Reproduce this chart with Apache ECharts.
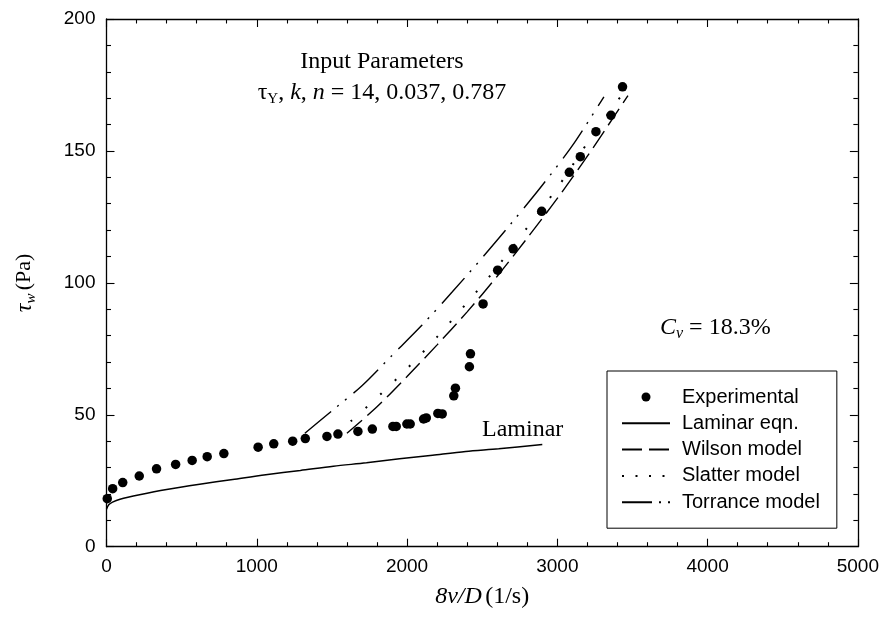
<!DOCTYPE html>
<html>
<head>
<meta charset="utf-8">
<script src="https://cdn.jsdelivr.net/npm/echarts@6/dist/echarts.min.js"></script>
<style>html,body{margin:0;padding:0;background:#fff;}#c{width:882px;height:626px;}</style>
</head>
<body>
<div id="c"></div>
<script>
// ---- axis settings ----
const xAxisRange = [0, 5000];
const xTickStep = 1000;
const yAxisRange = [0, 200];
const yTickStep = 50;

// ---- series names ----
const seriesNames = ['Experimental', 'Laminar eqn.', 'Wilson model', 'Slatter model', 'Torrance model'];

// ---- data: [8V/D (1/s), tau_w (Pa)] ----
const experimental = [
  [5,18.2],[41,22.0],[108,24.3],[218,26.8],[333,29.5],[460,31.2],[570,32.7],[670,34.1],[781,35.3],
  [1009,37.7],[1113,39.0],[1239,40.0],[1323,41.0],[1467,41.8],[1540,42.7],[1673,43.7],[1769,44.6],
  [1906,45.6],[1928,45.6],[1999,46.5],[2021,46.5],[2110,48.4],[2128,48.8],[2205,50.5],[2234,50.3],
  [2311,57.2],[2322,60.1],[2415,68.2],[2422,73.1],[2506,92.0],[2603,104.8],[2706,112.9],[2896,127.1],
  [3080,141.9],[3153,147.8],[3257,157.3],[3357,163.5],[3434,174.3]
];
const laminar = [
  [0,14.2],[15,15.9],[40,16.9],[90,18.0],[220,19.7],[400,21.7],[620,23.7],[840,25.5],[1060,27.3],
  [1290,28.9],[1510,30.5],[1730,31.8],[1950,33.3],[2170,34.7],[2390,36.1],[2610,37.1],[2900,38.7]
];
const wilson = [
  [1600,43.0],[1800,53.0],[2000,64.5],[2200,76.5],[2400,89.0],[2600,102.5],[2800,117.0],
  [3000,132.0],[3200,148.0],[3400,165.0],[3470,171.0]
];
const slatter = [
  [1625,47.5],[1800,56.5],[2000,67.5],[2200,79.5],[2400,92.5],[2600,106.0],[2800,121.0],
  [3000,136.0],[3200,153.0],[3420,170.5]
];
const torrance = [
  [1320,43.0],[1500,51.5],[1700,61.0],[1900,72.5],[2100,84.0],[2300,96.5],[2500,109.5],
  [2700,123.0],[2900,137.0],[3100,152.0],[3310,170.5]
];

const SANS = '"Liberation Sans", Arial, sans-serif';
const SERIF = '"Liberation Serif", "Times New Roman", serif';

const chart = echarts.init(document.getElementById('c'), null, {renderer: 'canvas'});

function mkAxis(extra) {
  return Object.assign({
    axisLine: {show: true, onZero: false, lineStyle: {color: '#000', width: 1.3}},
    axisTick: {show: true, inside: true, length: 8, lineStyle: {color: '#000', width: 1.1}},
    minorTick: {show: true, splitNumber: 5, length: 4.5, lineStyle: {color: '#000', width: 1.1}},
    splitLine: {show: false},
    minorSplitLine: {show: false}
  }, extra);
}

const plainNum = v => String(v);
const lineCommon = {type: 'line', symbol: 'none', smooth: 0.3, silent: true, z: 3};

chart.setOption({
  animation: false,
  backgroundColor: '#fff',
  grid: {left: 106.5, right: 23.5, top: 19, bottom: 79.3, containLabel: false},
  xAxis: [
    mkAxis({
      type: 'value', position: 'bottom', min: xAxisRange[0], max: xAxisRange[1], interval: xTickStep,
      axisLabel: {color: '#000', fontFamily: SANS, fontSize: 19, margin: 11, formatter: plainNum},
      name: '{i|8v/D} {n|(1/s)}', nameLocation: 'middle', nameGap: 38,
      nameTextStyle: {color: '#000', rich: {
        i: {fontFamily: SERIF, fontStyle: 'italic', fontSize: 24, color: '#000'},
        n: {fontFamily: SERIF, fontSize: 24, color: '#000'}
      }}
    }),
    mkAxis({
      type: 'value', position: 'top', min: xAxisRange[0], max: xAxisRange[1], interval: xTickStep,
      axisLabel: {show: false}
    })
  ],
  yAxis: [
    mkAxis({
      type: 'value', position: 'left', min: yAxisRange[0], max: yAxisRange[1], interval: yTickStep,
      axisLabel: {color: '#000', fontFamily: SANS, fontSize: 19, margin: 11, formatter: plainNum},
      name: '{t|τ}{s|w} {n|(Pa)}', nameLocation: 'middle', nameGap: 68,
      nameTextStyle: {color: '#000', rich: {
        t: {fontFamily: SERIF, fontStyle: 'italic', fontSize: 24, lineHeight: 28, color: '#000'},
        s: {fontFamily: SERIF, fontStyle: 'italic', fontSize: 15, lineHeight: 14, verticalAlign: 'bottom', color: '#000'},
        n: {fontFamily: SERIF, fontSize: 22, lineHeight: 28, color: '#000'}
      }}
    }),
    mkAxis({
      type: 'value', position: 'right', min: yAxisRange[0], max: yAxisRange[1], interval: yTickStep,
      axisLabel: {show: false}
    })
  ],
  legend: {
    orient: 'vertical', left: 607, top: 371, align: 'left',
    padding: [16, 17, 16, 14],
    borderColor: '#000', borderWidth: 1,
    itemWidth: 48, itemHeight: 9, itemGap: 6.3,
    textStyle: {color: '#000', fontFamily: SANS, fontSize: 20, lineHeight: 20, padding: [0, 0, 0, 7]},
    selectedMode: false,
    data: [
      {name: seriesNames[0]},
      {name: seriesNames[1], itemStyle: {opacity: 0}},
      {name: seriesNames[2], itemStyle: {opacity: 0}},
      {name: seriesNames[3], itemStyle: {opacity: 0}, lineStyle: {type: [2, 11.5]}},
      {name: seriesNames[4], itemStyle: {opacity: 0}, lineStyle: {type: [30, 7, 2, 7, 2, 10]}}
    ]
  },
  series: [
    {name: seriesNames[0], type: 'scatter', data: experimental, symbol: 'circle', symbolSize: 9.5,
     itemStyle: {color: '#000', opacity: 1}, z: 5},
    Object.assign({}, lineCommon, {name: seriesNames[1], data: laminar,
     lineStyle: {color: '#000', width: 1.5, type: 'solid'}, itemStyle: {color: '#000'}}),
    Object.assign({}, lineCommon, {name: seriesNames[2], data: wilson,
     lineStyle: {color: '#000', width: 1.4, type: [20, 7]}, itemStyle: {color: '#000'}}),
    Object.assign({}, lineCommon, {name: seriesNames[3], data: slatter,
     lineStyle: {color: '#000', width: 2, type: [2, 18]}, itemStyle: {color: '#000'}}),
    Object.assign({}, lineCommon, {name: seriesNames[4], data: torrance,
     lineStyle: {color: '#000', width: 1.4, type: [34, 8, 2, 8, 2, 9]}, itemStyle: {color: '#000'}})
  ],
  graphic: [
    {type: 'text', x: 382, y: 62, silent: true,
     style: {text: 'Input Parameters', fill: '#000', font: '24px ' + SERIF, align: 'center', verticalAlign: 'middle'}},
    {type: 'text', x: 382, y: 93, silent: true,
     style: {text: '{r|τ}{s|Y}{r|, }{i|k}{r|, }{i|n}{r| = 14, 0.037, 0.787}', fill: '#000',
       font: '24px ' + SERIF, align: 'center', verticalAlign: 'middle',
       rich: {
         r: {fontFamily: SERIF, fontSize: 24, lineHeight: 28, fill: '#000'},
         i: {fontFamily: SERIF, fontSize: 24, fontStyle: 'italic', lineHeight: 28, fill: '#000'},
         s: {fontFamily: SERIF, fontSize: 15, lineHeight: 14, verticalAlign: 'bottom', fill: '#000'}
       }}},
    {type: 'text', x: 660, y: 328, silent: true,
     style: {text: '{i|C}{s|v}{r| = 18.3%}', fill: '#000', font: '24px ' + SERIF, align: 'left', verticalAlign: 'middle',
       rich: {
         r: {fontFamily: SERIF, fontSize: 24, lineHeight: 28, fill: '#000'},
         i: {fontFamily: SERIF, fontSize: 24, fontStyle: 'italic', lineHeight: 28, fill: '#000'},
         s: {fontFamily: SERIF, fontSize: 16, fontStyle: 'italic', lineHeight: 14, verticalAlign: 'bottom', fill: '#000'}
       }}},
    {type: 'text', x: 482, y: 430, silent: true,
     style: {text: 'Laminar', fill: '#000', font: '24px ' + SERIF, align: 'left', verticalAlign: 'middle'}}
  ]
});
</script>
</body>
</html>
